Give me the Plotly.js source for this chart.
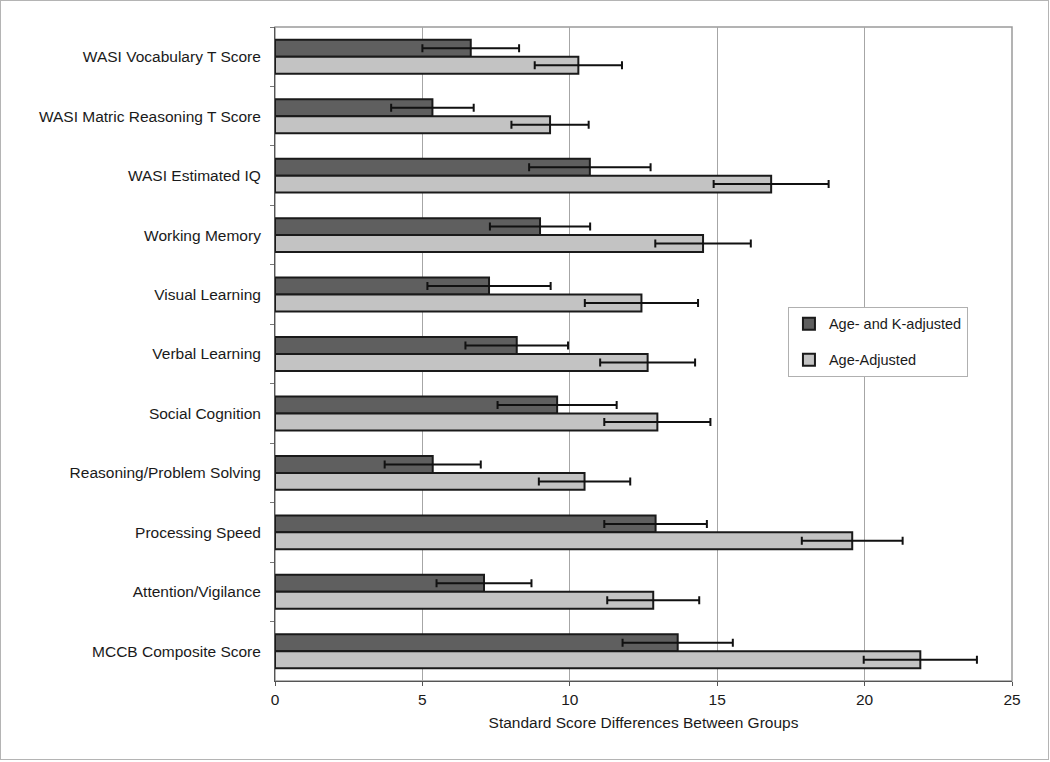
<!DOCTYPE html>
<html>
<head>
<meta charset="utf-8">
<script src="https://cdn.plot.ly/plotly-3.0.1.min.js"></script>
<style>
  html, body { margin: 0; padding: 0; background: #ffffff; }
  #wrap { position: relative; width: 1050px; height: 762px; }
  #chart { position: absolute; left: 0; top: 0; width: 1050px; height: 762px; }
  #frame { position: absolute; left: 0; top: 0; width: 1049px; height: 760px; box-sizing: border-box;
           border: 1px solid #b4b4b4; pointer-events: none; }
</style>
</head>
<body>
<div id="wrap">
  <div id="chart"></div>
  <div id="frame"></div>
</div>
<script>
// Categories, top to bottom
const categories = [
  "WASI Vocabulary T Score",
  "WASI Matric Reasoning T Score",
  "WASI Estimated IQ",
  "Working Memory",
  "Visual Learning",
  "Verbal Learning",
  "Social Cognition",
  "Reasoning/Problem Solving",
  "Processing Speed",
  "Attention/Vigilance",
  "MCCB Composite Score"
];

// Series: Age- and K-adjusted (dark)
const ageKAdjusted = [6.64, 5.34, 10.68, 8.99, 7.26, 8.20, 9.57, 5.35, 12.91, 7.09, 13.66];
const ageKAdjustedErr = [1.64, 1.40, 2.06, 1.70, 2.09, 1.74, 2.02, 1.63, 1.74, 1.61, 1.87];

// Series: Age-Adjusted (light)
const ageAdjusted = [10.29, 9.33, 16.83, 14.52, 12.43, 12.64, 12.97, 10.50, 19.58, 12.83, 21.89];
const ageAdjustedErr = [1.48, 1.31, 1.95, 1.62, 1.92, 1.61, 1.80, 1.55, 1.71, 1.56, 1.92];

const xTickVals = [0, 5, 10, 15, 20, 25];

const seriesNames = ["Age- and K-adjusted", "Age-Adjusted"];

const FONT = '"Liberation Sans", Arial, "DejaVu Sans", sans-serif';

const traces = [
  {
    type: 'bar', orientation: 'h', name: seriesNames[0], legendgroup: 'a',
    y: categories, x: ageKAdjusted,
    marker: { color: '#5f5f5f', line: { color: '#1a1a1a', width: 2 } },
    error_x: { type: 'data', array: ageKAdjustedErr, visible: true, color: '#111111', thickness: 2, width: 4 },
    hoverinfo: 'x+y'
  },
  {
    type: 'bar', orientation: 'h', name: seriesNames[1], legendgroup: 'b',
    y: categories, x: ageAdjusted,
    marker: { color: '#c3c3c3', line: { color: '#1a1a1a', width: 2 } },
    error_x: { type: 'data', array: ageAdjustedErr, visible: true, color: '#111111', thickness: 2, width: 4 },
    hoverinfo: 'x+y'
  }
];

const layout = {
  width: 1050, height: 762,
  paper_bgcolor: '#ffffff', plot_bgcolor: '#ffffff',
  font: { family: FONT, size: 15.5, color: '#1a1a1a' },
  margin: { l: 275, r: 38, t: 27, b: 81, pad: 0 },
  barmode: 'group',
  bargap: 0.43,
  bargroupgap: 0,
  showlegend: true,
  legend: {
    x: 0.696, y: 0.572, xanchor: 'left', yanchor: 'top',
    bordercolor: '#b0b0b0', borderwidth: 1, bgcolor: '#ffffff',
    font: { family: FONT, size: 14.5, color: '#1a1a1a' },
    tracegroupgap: 14, traceorder: 'grouped', itemwidth: 30
  },
  xaxis: {
    range: [0, 25], tickvals: xTickVals, ticktext: xTickVals.map(String),
    showgrid: true, gridcolor: '#a6a6a6', gridwidth: 1,
    zeroline: false,
    showline: true, linecolor: '#555555', linewidth: 1,
    ticks: 'outside', ticklen: 4, tickcolor: '#555555',
    tickfont: { family: FONT, size: 15.5, color: '#1a1a1a' },
    title: { text: 'Standard Score Differences Between Groups', font: { family: FONT, size: 15.5, color: '#1a1a1a' }, standoff: 10 },
    automargin: false, fixedrange: true
  },
  yaxis: {
    type: 'category', autorange: 'reversed',
    showgrid: false, zeroline: false,
    showline: true, linecolor: '#555555', linewidth: 1,
    ticks: 'outside', ticklen: 4, tickcolor: '#777777', tickson: 'boundaries',
    ticklabelstandoff: 10,
    tickfont: { family: FONT, size: 15.5, color: '#1a1a1a' },
    automargin: false, fixedrange: true
  },
  shapes: [
    { type: 'rect', xref: 'paper', yref: 'paper', x0: 0, x1: 1, y0: 0, y1: 1,
      line: { color: '#9a9a9a', width: 1.5 }, fillcolor: 'rgba(0,0,0,0)', layer: 'below' }
  ]
};

Plotly.newPlot('chart', traces, layout, { displayModeBar: false, staticPlot: true });
</script>
</body>
</html>
